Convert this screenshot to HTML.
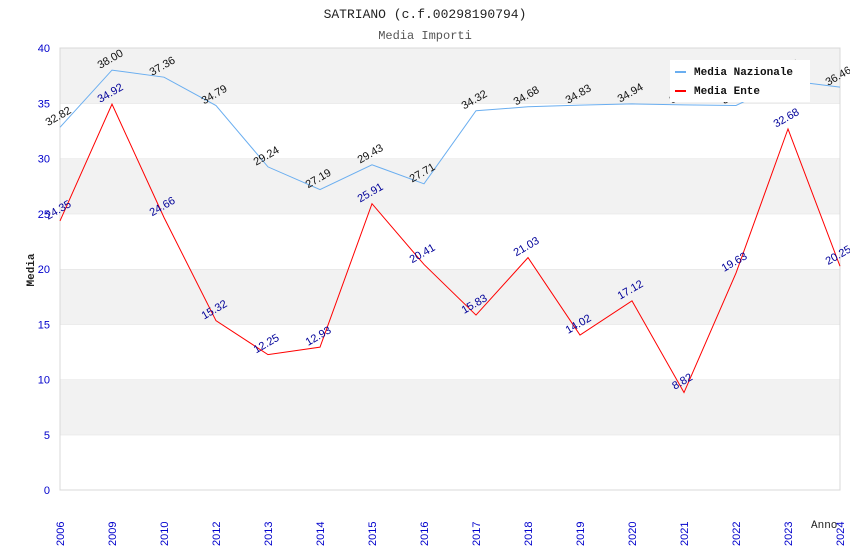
<!DOCTYPE html>
<html><head><meta charset="utf-8"><style>
body{margin:0;background:#fff;}
svg{display:block;font-family:"Liberation Sans",sans-serif;}
.mono{font-family:"Liberation Mono",monospace;}
</style></head><body>
<svg id="chart" width="850" height="550" xmlns="http://www.w3.org/2000/svg">
<text class="mono" x="425" y="18" text-anchor="middle" font-size="13" fill="#222">SATRIANO (c.f.00298190794)</text>
<text class="mono" x="425" y="39" text-anchor="middle" font-size="12" fill="#555">Media Importi</text>
<g id="bands"></g>
<g id="axes"></g>
<g id="series"></g>
<text class="mono" transform="translate(34,270) rotate(-90)" text-anchor="middle" font-size="11" font-weight="bold" fill="#222">Media</text>
<text class="mono" x="811" y="528" font-size="11" fill="#222">Anno</text>
<g>
<rect x="670" y="60" width="140" height="42" fill="#fff"/>
<line x1="675" y1="72" x2="686" y2="72" stroke="#6aaef0" stroke-width="2"/>
<text class="mono" x="694" y="75" font-size="11" font-weight="bold" fill="#111">Media Nazionale</text>
<line x1="675" y1="91" x2="686" y2="91" stroke="#f00" stroke-width="2"/>
<text class="mono" x="694" y="94" font-size="11" font-weight="bold" fill="#111">Media Ente</text>
</g>
</svg>
<script>
const years = ["2006","2009","2010","2012","2013","2014","2015","2016","2017","2018","2019","2020","2021","2022","2023","2024"];
const nazionale = [32.82,38.00,37.36,34.79,29.24,27.19,29.43,27.71,34.32,34.68,34.83,34.94,34.85,34.80,37.05,36.46];
const ente = [24.35,34.92,24.66,15.32,12.25,12.93,25.91,20.41,15.83,21.03,14.02,17.12,8.82,19.63,32.68,20.25];
const yTicks = [0,5,10,15,20,25,30,35,40];
const NS="http://www.w3.org/2000/svg";
const L=60,R=840,T=48,B=490,YMAX=40;
const xs=i=>L+i*(R-L)/(years.length-1);
const ys=v=>B-v*(B-T)/YMAX;
function mk(tag,attrs,parent){const e=document.createElementNS(NS,tag);for(const k in attrs)e.setAttribute(k,attrs[k]);document.getElementById(parent).appendChild(e);return e;}
for(let i=0;i<yTicks.length-1;i++){
  const r=mk('rect',{x:L,y:ys(yTicks[i+1]),width:R-L,height:ys(yTicks[i])-ys(yTicks[i+1]),fill:(i%2===1)?'#f2f2f2':'#fff'},'bands');
  
  
  const g=mk('line',{x1:L,x2:R,y1:ys(yTicks[i+1]),y2:ys(yTicks[i+1]),stroke:'#e0e0e0'},'bands');
  
  
}
const fr=mk('rect',{x:L,y:T,width:R-L,height:B-T,fill:'none',stroke:'#d8d8d8'},'axes');


yTicks.forEach(t=>{
  const tx=mk('text',{x:50,y:ys(t)+4,'text-anchor':'end','font-size':11,fill:'#0000cc'},'axes');
  tx.textContent=t;
  
  
});
years.forEach((y,i)=>{
  const tx=mk('text',{transform:`translate(${xs(i)+4},${B+56}) rotate(-90)`,'font-size':11,fill:'#0000cc'},'axes');
  tx.textContent=y;
  
  
});
function series(vals,color,lblColor,name){
  const p=mk('polyline',{points:vals.map((v,i)=>xs(i)+','+ys(v)).join(' '),fill:'none',stroke:color,'stroke-width':1},'series');
  
  
  vals.forEach((v,i)=>{
    const t=mk('text',{transform:`translate(${xs(i)},${ys(v)-8}) rotate(-30)`,'text-anchor':'middle','font-size':11,fill:lblColor},'series');
    t.textContent=v.toFixed(2);
    
    
  });
}
series(nazionale,'#6aaef0','#111','media-nazionale');
series(ente,'#f00','#000099','media-ente');
</script>
</body></html>
